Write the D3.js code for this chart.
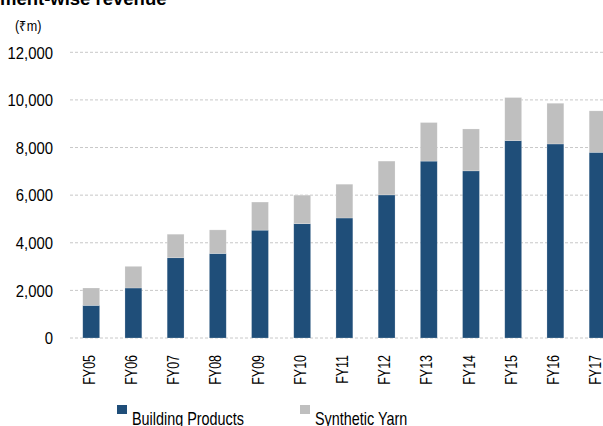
<!DOCTYPE html>
<html>
<head>
<meta charset="utf-8">
<script src="https://cdn.jsdelivr.net/npm/d3@7"></script>
<style>
  html, body { margin: 0; padding: 0; background: #fff; overflow: hidden; }
  svg { display: block; }
  text { font-family: "Liberation Sans", Arial, Helvetica, sans-serif; }
</style>
</head>
<body>
<svg id="chart" width="603" height="426"></svg>
<script>
const categories = ["FY05","FY06","FY07","FY08","FY09","FY10","FY11","FY12","FY13","FY14","FY15","FY16","FY17"];
const buildingProducts = [1370, 2100, 3370, 3550, 4530, 4800, 5040, 6010, 7430, 7020, 8290, 8150, 7800];
const syntheticYarn    = [ 730,  910,  990,  990, 1180, 1200, 1420, 1420, 1620, 1760, 1810, 1710, 1740];
const yTicks = [0, 2000, 4000, 6000, 8000, 10000, 12000];
const seriesNames = ["Building Products", "Synthetic Yarn"];
const seriesColors = ["#1f4e79", "#bfbfbf"];

const svg = d3.select("#chart");

const x = d3.scaleBand()
  .domain(categories)
  .range([70.1, 70.1 + 13 * 42.2])
  .paddingInner(0.6)
  .paddingOuter(0.3);

const y = d3.scaleLinear().domain([0, 12000]).range([338, 52.3]);

// Title (partially cut off, as in reference)
svg.append("text")
  .attr("x", -34).attr("y", 5)
  .attr("font-weight", "bold")
  .attr("font-size", 18.5)
  .attr("fill", "#000")
  .text("Segment-wise revenue");

svg.append("text")
  .attr("transform", "translate(15,31) scale(0.9,1)")
  .attr("font-size", 14)
  .attr("fill", "#000")
  .text("(₹m)");

// Gridlines
svg.append("g").selectAll("line").data(yTicks).join("line")
  .attr("x1", 70).attr("x2", 610)
  .attr("y1", d => y(d)).attr("y2", d => y(d))
  .attr("stroke", "#c8c8c8")
  .attr("stroke-width", 1)
  .attr("stroke-dasharray", "3,2");

// Y axis
const yAxis = d3.axisLeft(y).tickValues(yTicks).tickSize(0).tickPadding(0)
  .tickFormat(d3.format(","));
const yg = svg.append("g").attr("transform", "translate(53,0)").call(yAxis);
yg.select(".domain").remove();
yg.selectAll("text")
  .attr("font-size", 16)
  .attr("fill", "#000")
  .attr("x", 0)
  .attr("dy", "0.36em")
  .attr("transform", "scale(0.93,1)");

// Stacked bars
const stackData = categories.map((c, i) => ({ cat: c, bp: buildingProducts[i], sy: syntheticYarn[i] }));
const stack = d3.stack().keys(["bp", "sy"])(stackData);

svg.append("g").selectAll("g").data(stack).join("g")
  .attr("fill", (d, i) => seriesColors[i])
  .selectAll("rect").data(d => d).join("rect")
  .attr("x", d => x(d.data.cat))
  .attr("width", x.bandwidth())
  .attr("y", d => y(d[1]))
  .attr("height", d => y(d[0]) - y(d[1]))
  .attr("stroke", "#ffffff")
  .attr("stroke-opacity", 0.35)
  .attr("stroke-width", 0.6);

// X axis labels
const xAxis = d3.axisBottom(x).tickSize(0).tickPadding(0);
const xg = svg.append("g").attr("transform", "translate(0,355)").call(xAxis);
xg.select(".domain").remove();
xg.selectAll("text")
  .attr("font-size", 16)
  .attr("fill", "#000")
  .attr("text-anchor", "end")
  .attr("transform", "rotate(-90) scale(0.78,1)")
  .attr("x", 0).attr("y", 0)
  .attr("dy", "0.22em");
svg.selectAll(".tick text").attr("font-family", null);

// Legend
const legendX = [117, 300];
const lg = svg.append("g");
seriesNames.forEach((name, i) => {
  lg.append("rect")
    .attr("x", legendX[i]).attr("y", 405)
    .attr("width", 10).attr("height", 9)
    .attr("fill", seriesColors[i]);
  lg.append("text")
    .attr("transform", `translate(${legendX[i] + 15},425) scale(0.8,1)`)
    .attr("font-size", 18)
    .attr("fill", "#000")
    .text(name);
});
</script>
</body>
</html>
